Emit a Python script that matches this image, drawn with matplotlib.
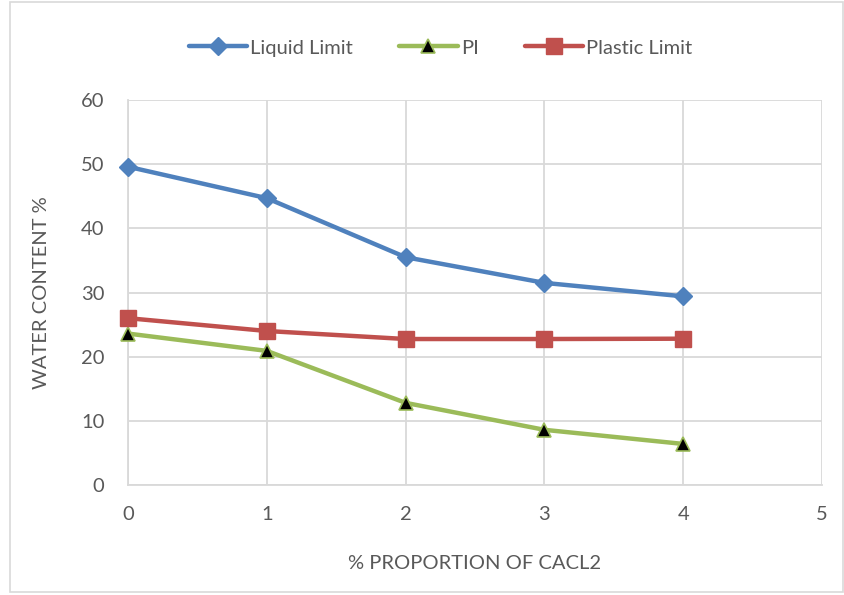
import matplotlib.pyplot as plt
from matplotlib.patches import Rectangle

# Atterberg limits vs CaCl2 dosage
cacl2_pct = [0, 1, 2, 3, 4]
liquid_limit = [49.6, 44.7, 35.5, 31.5, 29.4]
plastic_limit = [26.0, 24.0, 22.75, 22.75, 22.8]
plasticity_index = [23.6, 20.9, 12.8, 8.6, 6.4]

plt.rcParams['font.family'] = ['Lato', 'DejaVu Sans']
txt = '#595959'
grid_c = '#d9d9d9'
fs = 14.5

fig = plt.figure(figsize=(8.44, 5.95), dpi=100)
ax = fig.add_axes([128/844, 1-485/595, (822-128)/844, (485-100)/595])

ax.plot(cacl2_pct, liquid_limit, color='#4f81bd', lw=3.2, marker='D', ms=9,
        label='Liquid Limit', solid_capstyle='round', clip_on=False, zorder=3)
ax.plot(cacl2_pct, plasticity_index, color='#9bbb59', lw=3.2, marker='^', ms=10,
        mfc='black', mec='#9bbb59', mew=1.2, label='PI', solid_capstyle='round',
        clip_on=False, zorder=3)
ax.plot(cacl2_pct, plastic_limit, color='#c0504d', lw=3.2, marker='s', ms=11,
        label='Plastic Limit', solid_capstyle='round', clip_on=False, zorder=3)

ax.set_xlim(0, 5)
ax.set_ylim(0, 60)
ax.set_xticks(range(0, 6))
ax.set_yticks(range(0, 61, 10))
ax.grid(True, color=grid_c, lw=1.3)
ax.set_axisbelow(True)
for s in ['top', 'right']:
    ax.spines[s].set_visible(False)
for s in ['left', 'bottom']:
    ax.spines[s].set_color(grid_c)
    ax.spines[s].set_linewidth(1.3)
ax.tick_params(length=0, labelsize=fs, colors=txt)
ax.tick_params(axis='x', pad=15)
ax.tick_params(axis='y', pad=17)

ax.set_xlabel('% PROPORTION OF CACL2', fontsize=fs, color=txt, labelpad=23)
ax.set_ylabel('WATER CONTENT %', fontsize=fs, color=txt, labelpad=22)

fig.legend(loc='center', bbox_to_anchor=(0.522, 1-48/595), ncol=3, frameon=False,
           fontsize=fs, labelcolor=txt, handlelength=2.9, columnspacing=2.3,
           handletextpad=0.15)

fig.patches.append(Rectangle((10/844, 3/595), 833/844, 590/595, transform=fig.transFigure,
                             fill=False, edgecolor=grid_c, lw=1.2))

fig.savefig('out.png', dpi=100)
